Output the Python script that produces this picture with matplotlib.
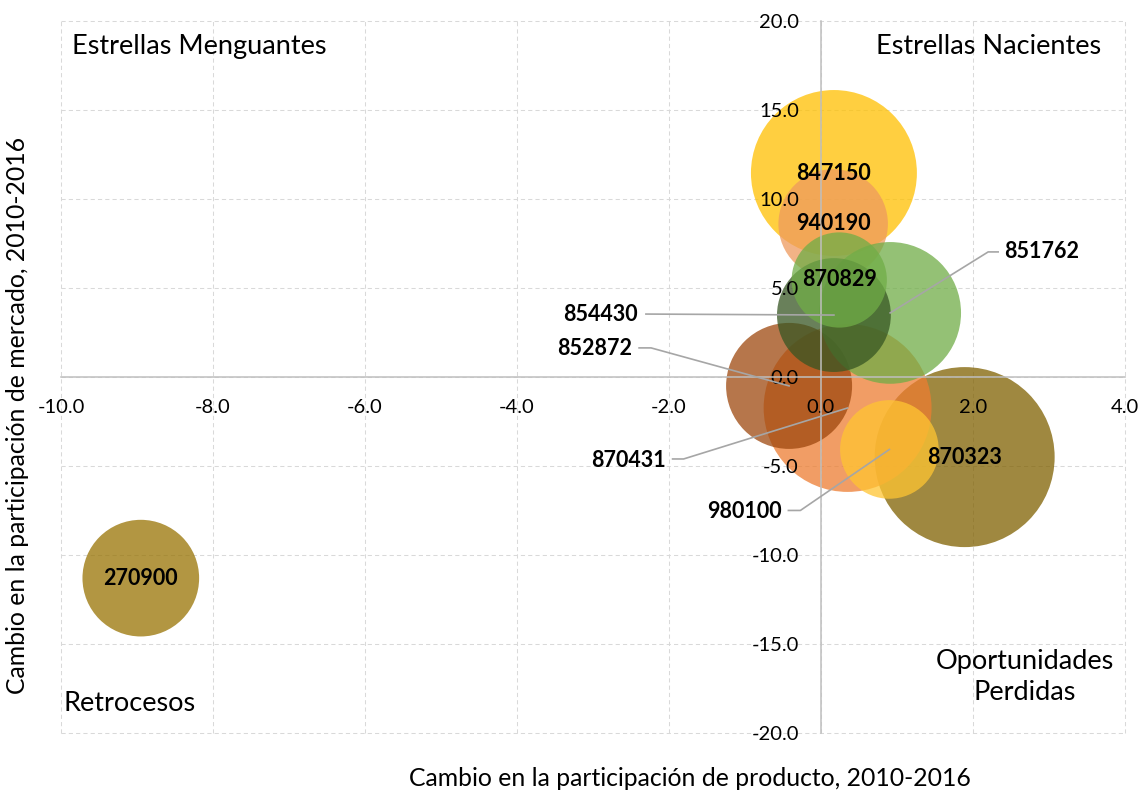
import numpy as np
import matplotlib.pyplot as plt
from matplotlib.lines import Line2D

plt.rcParams['font.family'] = ['Lato', 'DejaVu Sans']
plt.rcParams['axes.unicode_minus'] = False

# data (drawing order = back to front)
products = ['870323', '870431', '852872', '980100', '847150',
            '940190', '851762', '854430', '870829', '270900']
x_vals = [1.89, 0.35, -0.42, 0.90, 0.17, 0.16, 0.91, 0.17, 0.24, -8.95]
y_vals = [-4.5, -1.74, -0.5, -4.07, 11.46, 8.6, 3.6, 3.48, 5.45, -11.3]
sizes = [100, 87, 49, 30, 85, 37, 62, 40, 28, 42]
colors = ['#7F6000', '#ED7D31', '#9E480E', '#FFC532', '#FFC000',
          '#EE9A5E', '#70AD47', '#375623', '#70AD47', '#987303']

x_ticks = [-10, -8, -6, -4, -2, 0, 2, 4]
y_ticks = [-20, -15, -10, -5, 0, 5, 10, 15, 20]

# leader line labels: product -> (corner, end, text anchor) offsets in px from bubble centre
leaders = {
    '851762': ((98, 61), (108, 61), (114, 61), 'left'),
    '854430': ((-188, 1), (-188, 1), (-196, 1), 'right'),
    '852872': ((-138, 38), (-150, 38), (-157, 37), 'right'),
    '870431': ((-164, -51), (-175, -51), (-182, -53), 'right'),
    '980100': ((-89, -61), (-101, -61), (-108, -62), 'right'),
}

fig = plt.figure(figsize=(11.46, 7.93), dpi=100)
ax = fig.add_axes([61 / 1146, 1 - 733 / 793, 1064 / 1146, 712 / 793])
ax.set_xlim(-10, 4)
ax.set_ylim(-20, 20)

for xt in x_ticks:
    ax.axvline(xt, color='#D9D9D9', lw=0.75, dashes=(4, 3), zorder=0.5, clip_on=False)
for yt in y_ticks:
    ax.axhline(yt, color='#D9D9D9', lw=0.75, dashes=(4, 3), zorder=0.5, clip_on=False)

max_r = 90 * 0.72  # radius in points for the largest bubble
s = [(2 * max_r * np.sqrt(v / 100)) ** 2 for v in sizes]
ax.scatter(x_vals, y_vals, s=s, c=colors, alpha=0.75, linewidths=0, zorder=1)

for sp in ['top', 'right']:
    ax.spines[sp].set_visible(False)
ax.spines['left'].set_position(('data', 0))
ax.spines['bottom'].set_position(('data', 0))
for sp in ['left', 'bottom']:
    ax.spines[sp].set_color('#BFBFBF')
    ax.spines[sp].set_linewidth(1.1)

ax.set_xticks(x_ticks)
ax.set_yticks(y_ticks)
ax.set_xticklabels([f'{v:.1f}' for v in x_ticks])
ax.set_yticklabels([f'{v:.1f}' for v in y_ticks])
ax.tick_params(axis='both', length=0, labelsize=14.5, colors='#000000')
ax.tick_params(axis='x', pad=16)
ax.tick_params(axis='y', pad=16)

for name, xv, yv in zip(products, x_vals, y_vals):
    if name in leaders:
        corner, end, txt, ha = leaders[name]
        cx, cy = ax.transData.transform((xv, yv))
        line = Line2D([cx, cx + corner[0], cx + end[0]], [cy, cy + corner[1], cy + end[1]],
                      transform=None, color='#A6A6A6', lw=1.2, zorder=3)
        fig.add_artist(line)
        ax.annotate(name, (xv, yv), xytext=(txt[0] * 0.72, txt[1] * 0.72),
                    textcoords='offset points', ha=ha, va='center',
                    fontsize=15.5, fontweight='bold', zorder=4)
    else:
        ax.text(xv, yv, name, ha='center', va='center', fontsize=15.5,
                fontweight='bold', zorder=4)

qfont = dict(fontsize=19.5, color='#000000')
ax.text(0.010, 0.964, 'Estrellas Menguantes', transform=ax.transAxes, ha='left', va='center', **qfont)
ax.text(0.978, 0.964, 'Estrellas Nacientes', transform=ax.transAxes, ha='right', va='center', **qfont)
ax.text(0.002, 0.042, 'Retrocesos', transform=ax.transAxes, ha='left', va='center', **qfont)
ax.text(0.906, 0.078, 'Oportunidades\nPerdidas', transform=ax.transAxes, ha='center', va='center',
        linespacing=1.3, **qfont)

fig.text(690 / 1146, 1 - 779 / 793, 'Cambio en la participación de producto, 2010-2016',
         ha='center', va='center', fontsize=17.8)
fig.text(18 / 1146, 1 - 415 / 793, 'Cambio en la participación de mercado, 2010-2016',
         ha='center', va='center', rotation=90, fontsize=17.8)

fig.savefig('out.png', dpi=100)
